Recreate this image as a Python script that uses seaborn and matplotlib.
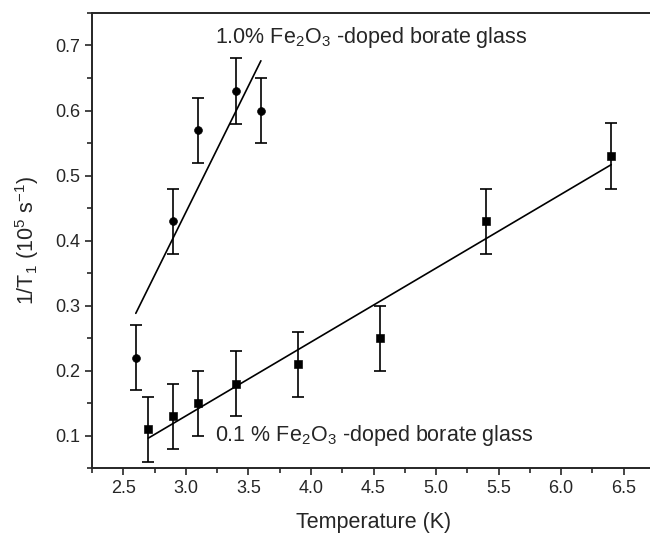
import numpy as np
import pandas as pd
import matplotlib
matplotlib.use("Agg")
import matplotlib.pyplot as plt
from matplotlib.ticker import MultipleLocator
import seaborn as sns

# 1.0 % Fe2O3 doped glass
temp_hi = [2.6, 2.9, 3.1, 3.4, 3.6]
rate_hi = [0.22, 0.43, 0.57, 0.63, 0.60]
err_hi = [0.05, 0.05, 0.05, 0.05, 0.05]

# 0.1 % Fe2O3 doped glass
temp_lo = [2.7, 2.9, 3.1, 3.4, 3.9, 4.55, 5.4, 6.4]
rate_lo = [0.11, 0.13, 0.15, 0.18, 0.21, 0.25, 0.43, 0.53]
err_lo = [0.05, 0.05, 0.05, 0.05, 0.05, 0.05, 0.05, 0.05]

sns.set_style("ticks")
plt.rcParams['font.family'] = ['Liberation Sans', 'DejaVu Sans']
plt.rcParams['mathtext.fontset'] = 'custom'
plt.rcParams['mathtext.rm'] = 'Liberation Sans'
plt.rcParams['mathtext.it'] = 'Liberation Sans'

df_hi = pd.DataFrame({"T": temp_hi, "rate": rate_hi, "err": err_hi})
df_lo = pd.DataFrame({"T": temp_lo, "rate": rate_lo, "err": err_lo})

fig = plt.figure(figsize=(6.5, 5.37), dpi=100)
ax = fig.add_axes([92 / 650, 1 - 468 / 537, 563 / 650, 455 / 537])

for df, mk, sz in [(df_hi, "o", 32), (df_lo, "s", 30)]:
    ax.errorbar(df["T"], df["rate"], yerr=df["err"], fmt="none",
                ecolor="black", elinewidth=1.2, capsize=4, capthick=1.2)
    sns.scatterplot(data=df, x="T", y="rate", marker=mk, color="black",
                    s=sz, edgecolor="black", ax=ax, zorder=3)
    sns.regplot(data=df, x="T", y="rate", ci=None, scatter=False, truncate=True,
                line_kws={"color": "black", "lw": 1.2}, ax=ax)

ax.set_xlim(2.25, 6.75)
ax.set_ylim(0.05, 0.75)
ax.xaxis.set_minor_locator(MultipleLocator(0.25))
ax.yaxis.set_minor_locator(MultipleLocator(0.05))
ax.set_xticks(np.arange(2.5, 6.51, 0.5))
ax.set_yticks(np.arange(0.1, 0.71, 0.1))
ax.tick_params(which="major", length=5, width=1.2, labelsize=13, direction="out")
ax.tick_params(which="minor", length=3.5, width=1.2, direction="out")
for s in ["left", "bottom", "top"]:
    ax.spines[s].set_linewidth(1.4)
ax.spines["right"].set_visible(False)

ax.set_xlabel("Temperature (K)", fontsize=15.5, labelpad=11)
ax.set_ylabel("1/T$_1$ (10$^5$ s$^{-1}$)", fontsize=15.5, labelpad=10)

ax.text(3.235, 0.712, "1.0% Fe$_2$O$_3$ -doped borate glass", fontsize=15.5,
        va="center", ha="left")
ax.text(3.235, 0.10, "0.1 % Fe$_2$O$_3$ -doped borate glass", fontsize=15.5,
        va="center", ha="left")

fig.savefig("out.png", dpi=100)
